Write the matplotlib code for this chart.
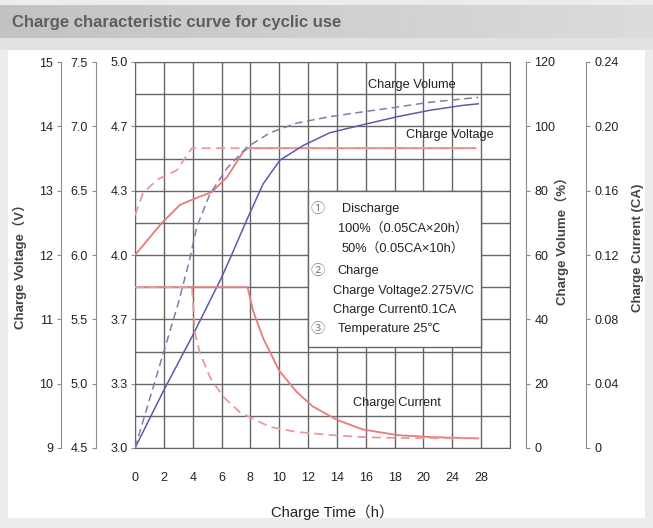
import matplotlib
matplotlib.use("Agg")
import matplotlib.pyplot as plt
from matplotlib import font_manager as fm
from matplotlib.patches import Rectangle
import numpy as np

# ---- data ----
x_ticks = [0, 2, 4, 6, 8, 10, 12, 14, 16, 18, 20, 22, 24]
x_labels = ["0", "2", "4", "6", "8", "10", "12", "14", "16", "18", "20", "24", "28"]

# charge voltage (V, 12V battery)
t_volt_100 = [0, 1.87, 3.12, 4.3, 5.34, 6.38, 7.49, 7.83, 23.6]
volt_100 = [12.0, 12.5, 12.78, 12.89, 12.98, 13.21, 13.6, 13.66, 13.66]
t_volt_50 = [0, 0.55, 1.53, 2.91, 3.6, 3.95, 23.6]
volt_50 = [12.62, 12.96, 13.17, 13.32, 13.55, 13.66, 13.66]

# charge volume (%)
t_cap_100 = [0, 2.0, 4.0, 6.0, 6.6, 7.76, 8.87, 10.05, 11.65, 13.5, 15.8, 18.2, 20.45, 22.7, 23.8]
cap_100 = [0, 18, 35, 53, 59, 71, 82, 89.5, 94, 98, 100.5, 103, 105, 106.5, 107]
t_cap_50 = [0, 1.0, 2.0, 3.0, 3.7, 4.3, 5.2, 6.38, 7.76, 9.36, 11.2, 13.5, 15.8, 18.2, 20.45, 22.7, 23.8]
cap_50 = [0, 15, 30, 45, 57, 69, 79, 87, 93.5, 98, 101, 103, 104.5, 106, 107.5, 108.5, 109]

# charge current (CA)
t_cur_100 = [0, 7.8, 8.2, 8.9, 10.0, 11.2, 12.3, 14.0, 15.8, 18.2, 20.5, 22.7, 23.8]
cur_100 = [0.10, 0.10, 0.085, 0.068, 0.048, 0.035, 0.026, 0.0175, 0.0115, 0.008, 0.0068, 0.0062, 0.006]
t_cur_50 = [0, 3.95, 4.02, 4.16, 4.5, 5.2, 6.1, 7.3, 8.0, 9.36, 11.2, 13.5, 15.8, 18.2, 23.8]
cur_50 = [0.10, 0.10, 0.09, 0.0715, 0.059, 0.044, 0.032, 0.022, 0.019, 0.0131, 0.010, 0.0081, 0.0068, 0.0062, 0.006]

legend_lines = [
    ("\u2460", "Discharge"),
    (None, "100%\uff080.05CA\u00d720h\uff09"),
    (None, "50%\uff080.05CA\u00d710h\uff09"),
    ("\u2461", "Charge"),
    (None, "Charge Voltage2.275V/C"),
    (None, "Charge Current0.1CA"),
    ("\u2462", "Temperature 25\u2103"),
]


def have(name):
    try:
        fm.findfont(fm.FontProperties(family=name), fallback_to_default=False)
        return True
    except ValueError:
        return False


narrow = have("Liberation Sans Narrow")
base = "Liberation Sans Narrow" if narrow else "Liberation Sans"
fams = [base, "Liberation Sans", "Noto Sans CJK SC", "DejaVu Sans"]
wide = ["Liberation Sans", "Noto Sans CJK SC", "DejaVu Sans"]
plt.rcParams["font.family"] = fams
fs = 11 if narrow else 9.2
tfs = 10.5 if narrow else 9

W, H = 653, 528
fig = plt.figure(figsize=(W / 100, H / 100), dpi=100)
fig.patch.set_facecolor("#ececec")


def fx(px):
    return px / W


def fy(py):
    return 1 - py / H


# white panel + title band
fig.add_artist(Rectangle((fx(8), fy(518)), fx(637), 468 / H, transform=fig.transFigure,
                         facecolor="white", edgecolor="none", zorder=0))
fig.add_artist(Rectangle((0, fy(50)), 1, 12 / H, transform=fig.transFigure,
                         facecolor="#e2e2e2", edgecolor="none", zorder=0))
band = fig.add_axes([0, fy(38), 1, 33 / H])
grad = np.linspace(0.76, 0.86, 256).reshape(1, -1)
band.imshow(grad, cmap="gray", vmin=0, vmax=1, aspect="auto", extent=[0, 1, 0, 1])
band.axis("off")
fig.text(fx(12), fy(22), "Charge characteristic curve for cyclic use", fontsize=15 if narrow else 12,
         fontweight="bold", color="#5e5e5e", va="center", ha="left")

grid_c = "#666666"
spine_c = "#8c8c8c"

ax = fig.add_axes([fx(135), fy(448), 375 / W, 386 / H])
ax.set_xlim(0, 26)
ax.set_ylim(3.0, 5.0)
cell_ticks = np.linspace(3.0, 5.0, 7)
ax.set_yticks(cell_ticks)
ax.set_yticklabels([f"{v:.1f}" for v in cell_ticks])
ax.set_yticks(np.linspace(3.0, 5.0, 13), minor=True)
ax.set_xticks(x_ticks)
ax.set_xticklabels(x_labels)
ax.set_xticks([26], minor=True)
ax.grid(which="both", color=grid_c, lw=1.0)
ax.tick_params(axis="x", which="both", length=0, pad=17, labelsize=tfs, colors="#222")
ax.tick_params(axis="y", which="major", length=3, pad=2, labelsize=tfs, colors="#222")
ax.tick_params(axis="y", which="major", color=spine_c)
ax.tick_params(axis="y", which="minor", length=0)
for s in ax.spines.values():
    s.set_color(grid_c)

# legend box
ax.add_patch(Rectangle((12, 3.525), 12, 4.3333 - 3.525, facecolor="white",
                       edgecolor=grid_c, lw=1.0, zorder=2))
rows_y = [0.619, 0.566, 0.513, 0.459, 0.407, 0.357, 0.308]
for (mark, txt), yy in zip(legend_lines, rows_y):
    if mark:
        ax.text(0.488, yy, mark, transform=ax.transAxes, fontsize=fs + 1, color="#888",
                va="center", ha="center", zorder=3)
    if txt in ("Discharge", "50%\uff080.05CA\u00d710h\uff09"):
        x0 = 0.552
    elif txt.startswith("Charge Voltage") or txt.startswith("Charge Current"):
        x0 = 0.528
    else:
        x0 = 0.541
    ax.text(x0, yy, txt, transform=ax.transAxes, fontsize=fs, color="#222",
            va="center", ha="left", zorder=3)

ax.text(0.739, 0.940, "Charge Volume", transform=ax.transAxes, fontsize=fs, color="#222",
        ha="center", va="center")
ax.text(0.840, 0.811, "Charge Voltage", transform=ax.transAxes, fontsize=fs, color="#222",
        ha="center", va="center")
ax.text(0.699, 0.117, "Charge Current", transform=ax.transAxes, fontsize=fs, color="#222",
        ha="center", va="center")


def side_axis(side, offset, lim, ticks, labels):
    a = ax.twinx()
    a.set_ylim(*lim)
    a.set_yticks(ticks)
    a.set_yticklabels(labels)
    for k in a.spines:
        a.spines[k].set_visible(False)
    a.spines[side].set_visible(True)
    a.spines[side].set_position(("outward", offset))
    a.spines[side].set_color(spine_c)
    if side == "left":
        a.yaxis.set_ticks_position("left")
    a.tick_params(axis="y", length=3, pad=3, labelsize=tfs, colors="#222")
    a.tick_params(axis="y", color=spine_c)
    return a


ax12 = side_axis("left", 53, (9, 15), [9, 10, 11, 12, 13, 14, 15],
                 ["9", "10", "11", "12", "13", "14", "15"])
v6 = np.linspace(4.5, 7.5, 7)
ax6 = side_axis("left", 28, (4.5, 7.5), v6, [f"{v:.1f}" for v in v6])
axcap = side_axis("right", 11.5, (0, 120), [0, 20, 40, 60, 80, 100, 120],
                  ["0", "20", "40", "60", "80", "100", "120"])
cur_t = [0, 0.04, 0.08, 0.12, 0.16, 0.20, 0.24]
axcur = side_axis("right", 55, (0, 0.24), cur_t, ["0"] + [f"{v:.2f}" for v in cur_t[1:]])

red = "#e77a7a"
red_d = "#e99a9a"
blue = "#5a5cab"
blue_d = "#7d7fa8"
dash = (0, (5, 3))

ax12.plot(t_volt_100, volt_100, color=red, lw=1.3)
ax12.plot(t_volt_50, volt_50, color=red_d, lw=1.3, ls=dash)
axcap.plot(t_cap_100, cap_100, color=blue, lw=1.1)
axcap.plot(t_cap_50, cap_50, color=blue_d, lw=1.1, ls=dash)
axcur.plot(t_cur_100, cur_100, color=red, lw=1.3)
axcur.plot(t_cur_50, cur_50, color=red_d, lw=1.3, ls=dash)

lab_kw = dict(rotation=90, fontsize=9.5, fontweight="bold", family=wide,
              ha="center", va="center", color="#444")
fig.text(fx(20), fy(263), "Charge Voltage\uff08V\uff09", **lab_kw)
fig.text(fx(562), fy(238), "Charge Volume\uff08%\uff09", **lab_kw)
fig.text(fx(638), fy(248), "Charge Current (CA)", **lab_kw)
fig.text(fx(332), fy(512), "Charge Time\uff08h\uff09", fontsize=fs * 1.15, ha="center", va="center",
         color="#222")

fig.savefig("out.png", dpi=100, facecolor=fig.get_facecolor())
